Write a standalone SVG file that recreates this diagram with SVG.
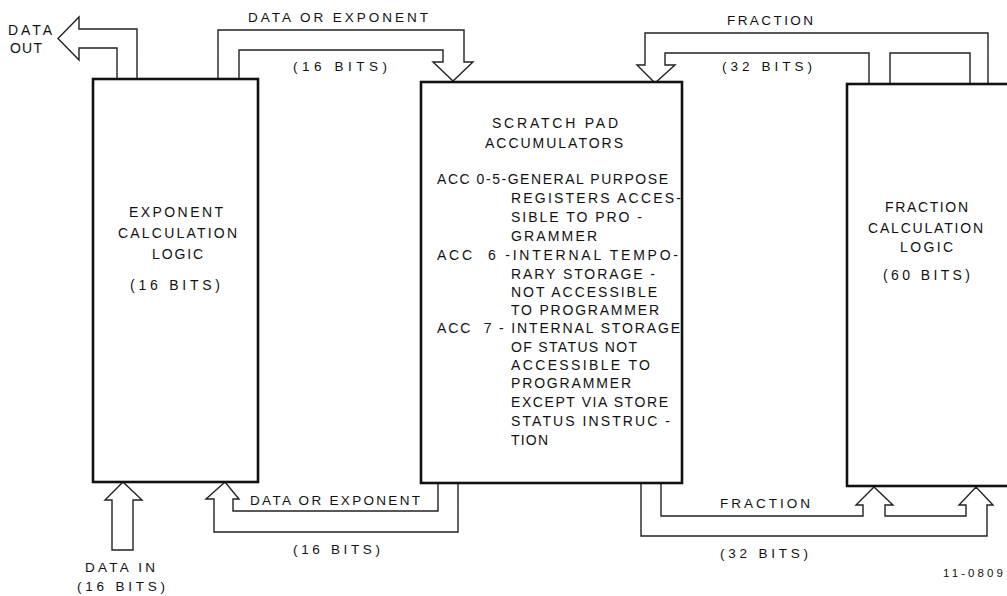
<svg xmlns="http://www.w3.org/2000/svg" width="1007" height="596" viewBox="0 0 1007 596">
<style>
.box{fill:#fff;stroke:#111;stroke-width:2.6}
.ln{fill:#fff;stroke:#222;stroke-width:1.4;stroke-linejoin:miter}
.ln2{fill:none;stroke:#222;stroke-width:1.4}
text{font-family:"Liberation Sans",Arial,sans-serif;font-size:14px;fill:#111}
.s{font-size:13.5px}
</style>
<rect width="1007" height="596" fill="#fff"/>
<g id="connectors">
<path class="ln" d="M117,79 V48 H79 V60 L58,38.5 L79,17 V29 H137 V79"/>
<path class="ln" d="M218,79 V30 H464 V62 H473 L453,81 L433,62 H443 V50 H239 V79"/>
<path class="ln" d="M988,84 V33 H645 V65 H637 L655,83 L675,65 H665 V53 H869 V84"/>
<path class="ln2" d="M890,84 V53 H970 V84"/>
<path class="ln" d="M438,482 V511 H233 V499 H239 L225,482 L206,499 H214 V532 H458 V482"/>
<path class="ln" d="M123,482 L142,500 H133 V550 H112 V500 H105 Z"/>
<path class="ln" d="M661,483 V516 H863 V505 H856 L874,487 L893,505 H885 V516 H966 V505 H959 L976,487 L993,505 H987 V536 H641 V483"/>
</g>
<g id="exponent">
<rect class="box" x="93" y="79" width="165" height="403"/>
<text x="129" y="217" textLength="94" lengthAdjust="spacing">EXPONENT</text>
<text x="118" y="238" textLength="119" lengthAdjust="spacing">CALCULATION</text>
<text x="152" y="259" textLength="51" lengthAdjust="spacing">LOGIC</text>
<text x="130" y="290" textLength="90" lengthAdjust="spacing">(16 BITS)</text>
</g>
<g id="scratchpad">
<rect class="box" x="421" y="82" width="261" height="401"/>
<text x="492" y="128" textLength="126" lengthAdjust="spacing">SCRATCH PAD</text>
<text x="485" y="148" textLength="138" lengthAdjust="spacing">ACCUMULATORS</text>
<text x="437" y="184" textLength="231" lengthAdjust="spacing">ACC 0-5-GENERAL PURPOSE</text>
<text x="511" y="203" textLength="170" lengthAdjust="spacing">REGISTERS ACCES-</text>
<text x="511" y="222" textLength="131" lengthAdjust="spacing">SIBLE TO PRO -</text>
<text x="511" y="241" textLength="86" lengthAdjust="spacing">GRAMMER</text>
<text x="437" y="260" textLength="241" lengthAdjust="spacing" xml:space="preserve">ACC  6 -INTERNAL TEMPO-</text>
<text x="511" y="279" textLength="144" lengthAdjust="spacing">RARY STORAGE -</text>
<text x="511" y="297" textLength="146" lengthAdjust="spacing">NOT ACCESSIBLE</text>
<text x="511" y="315" textLength="148" lengthAdjust="spacing">TO PROGRAMMER</text>
<text x="437" y="333" textLength="243" lengthAdjust="spacing" xml:space="preserve">ACC  7 - INTERNAL STORAGE</text>
<text x="511" y="352" textLength="126" lengthAdjust="spacing">OF STATUS NOT</text>
<text x="511" y="370" textLength="139" lengthAdjust="spacing">ACCESSIBLE TO</text>
<text x="511" y="388" textLength="120" lengthAdjust="spacing">PROGRAMMER</text>
<text x="511" y="407" textLength="157" lengthAdjust="spacing">EXCEPT VIA STORE</text>
<text x="511" y="426" textLength="159" lengthAdjust="spacing">STATUS INSTRUC -</text>
<text x="511" y="445" textLength="37" lengthAdjust="spacing">TION</text>
</g>
<g id="fraction">
<rect class="box" x="847" y="84" width="180" height="402"/>
<text x="885" y="212" textLength="83" lengthAdjust="spacing">FRACTION</text>
<text x="868" y="233" textLength="115" lengthAdjust="spacing">CALCULATION</text>
<text x="900" y="252" textLength="53" lengthAdjust="spacing">LOGIC</text>
<text x="883" y="280" textLength="87" lengthAdjust="spacing">(60 BITS)</text>
</g>
<g id="labels">
<text x="8" y="35" textLength="44" lengthAdjust="spacing">DATA</text>
<text x="10" y="53" textLength="32" lengthAdjust="spacing">OUT</text>
<text class="s" x="248" y="22" textLength="180" lengthAdjust="spacing">DATA OR EXPONENT</text>
<text class="s" x="293" y="71" textLength="94" lengthAdjust="spacing">(16 BITS)</text>
<text class="s" x="727" y="25" textLength="86" lengthAdjust="spacing">FRACTION</text>
<text class="s" x="722" y="71" textLength="90" lengthAdjust="spacing">(32 BITS)</text>
<text class="s" x="250" y="505" textLength="170" lengthAdjust="spacing">DATA OR EXPONENT</text>
<text class="s" x="293" y="554" textLength="87" lengthAdjust="spacing">(16 BITS)</text>
<text class="s" x="85" y="572" textLength="70" lengthAdjust="spacing">DATA IN</text>
<text class="s" x="77" y="591" textLength="88" lengthAdjust="spacing">(16 BITS)</text>
<text class="s" x="720" y="508" textLength="90" lengthAdjust="spacing">FRACTION</text>
<text class="s" x="720" y="558" textLength="88" lengthAdjust="spacing">(32 BITS)</text>
<text x="943" y="577" style="font-size:11.5px" textLength="60" lengthAdjust="spacing">11-0809</text>
</g>
</svg>
